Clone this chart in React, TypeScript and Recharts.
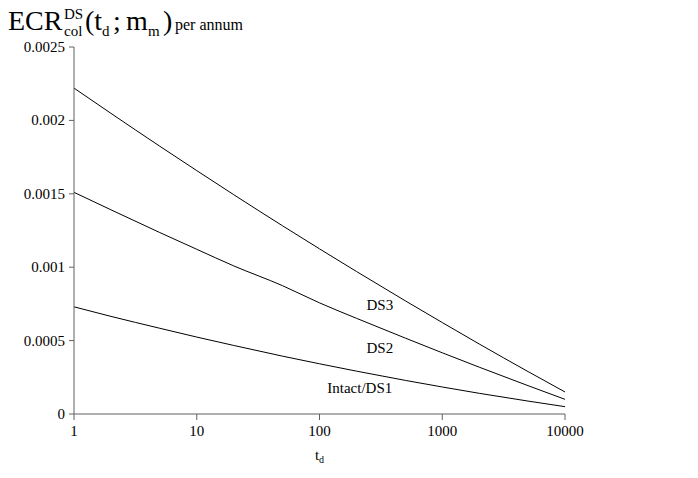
import { LineChart, Line, XAxis, YAxis, ReferenceDot, Label } from "recharts";

const tdValues = [1, 2, 5, 10, 20, 50, 100, 200, 500, 1000, 2000, 5000, 10000];
const ds3 = [0.00222, 0.002048, 0.001824, 0.001658, 0.001494, 0.001282, 0.001125, 0.000971, 0.000771, 0.000623, 0.000477, 0.000289, 0.00015];
const ds2 = [0.00151, 0.001391, 0.001236, 0.001122, 0.001009, 0.000874, 0.000757, 0.000652, 0.000517, 0.000417, 0.000319, 0.000193, 0.0001];
const intact = [0.00073, 0.000665, 0.000584, 0.000524, 0.000467, 0.000394, 0.000342, 0.000292, 0.000229, 0.000184, 0.000141, 0.000088, 0.00005];

const xTicks = [1, 10, 100, 1000, 10000];
const yTicks = [0, 0.0005, 0.001, 0.0015, 0.002, 0.0025];

const data = tdValues.map((td, i) => ({ td, ds3: ds3[i], ds2: ds2[i], intact: intact[i] }));

const FONT = "'Liberation Serif', serif";
const AXIS = "#606060";

const curveLabels = [
  { x: 310, y: 0.00074, text: "DS3" },
  { x: 310, y: 0.00045, text: "DS2" },
  { x: 213, y: 0.00018, text: "Intact/DS1" },
];

function XTick({ x, y, payload }: any) {
  return (
    <text x={x} y={y + 14} textAnchor="middle" fontFamily={FONT} fontSize={15} fill="#000">
      {payload.value}
    </text>
  );
}

function YTick({ x, y, payload }: any) {
  return (
    <text x={x - 2} y={y + 5} textAnchor="end" fontFamily={FONT} fontSize={15} fill="#000">
      {payload.value}
    </text>
  );
}

function Title() {
  // stacked super/subscript like the original equation-editor title
  return (
    <svg width={270} height={48} style={{ position: "absolute", left: 0, top: -8 }} fontFamily={FONT} fill="#000">
      <text x={0} y={30} fontSize={28}>ECR</text>
      <text x={56} y={19} fontSize={15}>DS</text>
      <text x={56} y={36} fontSize={15}>col</text>
      <text x={77} y={30} fontSize={28}>(t</text>
      <text x={94} y={36} fontSize={15}>d</text>
      <text x={105} y={30} fontSize={28}>;</text>
      <text x={118} y={30} fontSize={28}>m</text>
      <text x={140} y={36} fontSize={15}>m</text>
      <text x={155} y={30} fontSize={28}>)</text>
      <text x={167} y={30} fontSize={16}>per annum</text>
    </svg>
  );
}

export default function App() {
  return (
    <div style={{ position: "relative", width: 680, height: 460, background: "#fff" }}>
      <Title />
      <LineChart width={680} height={460} data={data} margin={{ top: 39, right: 123, bottom: 24, left: 0 }}>
        <XAxis
          dataKey="td"
          type="number"
          scale="log"
          domain={[1, 10000]}
          ticks={xTicks}
          allowDataOverflow
          stroke={AXIS}
          tick={<XTick />}
          tickSize={6}
          height={30}
        >
          <Label
            position="bottom"
            content={({ viewBox }: any) => (
              <text x={viewBox.x + viewBox.width / 2} y={viewBox.y + viewBox.height + 16} textAnchor="middle" fontFamily={FONT} fontSize={15}>
                t<tspan fontSize={10} dy={3}>d</tspan>
              </text>
            )}
          />
        </XAxis>
        <YAxis
          type="number"
          domain={[0, 0.0025]}
          ticks={yTicks}
          width={66}
          stroke={AXIS}
          tick={<YTick />}
          tickSize={5}
        />
        <Line dataKey="ds3" type="monotone" stroke="#000" strokeWidth={1} dot={false} isAnimationActive={false} />
        <Line dataKey="ds2" type="monotone" stroke="#000" strokeWidth={1} dot={false} isAnimationActive={false} />
        <Line dataKey="intact" type="monotone" stroke="#000" strokeWidth={1} dot={false} isAnimationActive={false} />
        {curveLabels.map((c) => (
          <ReferenceDot key={c.text} x={c.x} y={c.y} r={0} fill="none" stroke="none"
            label={{
              position: "center",
              content: ({ viewBox }: any) => (
                <text x={viewBox.x + viewBox.width / 2} y={viewBox.y + viewBox.height / 2 + 5} textAnchor="middle" fontFamily={FONT} fontSize={15} fill="#000">
                  {c.text}
                </text>
              ),
            }} />
        ))}
      </LineChart>
    </div>
  );
}
